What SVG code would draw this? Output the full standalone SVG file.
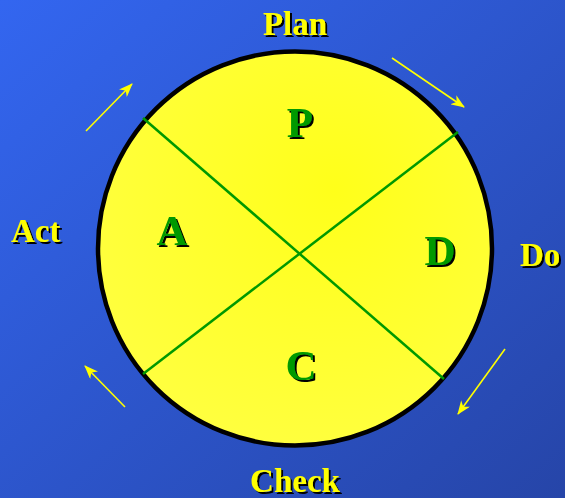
<svg xmlns="http://www.w3.org/2000/svg" width="565" height="498" viewBox="0 0 565 498">
<defs>
<linearGradient id="bg" x1="0" y1="0" x2="1" y2="1">
<stop offset="0" stop-color="#3366F0"/>
<stop offset="1" stop-color="#2645A8"/>
</linearGradient>
<radialGradient id="yl" cx="0.6" cy="0.35" r="0.7">
<stop offset="0" stop-color="#FFFF1A"/>
<stop offset="1" stop-color="#FFFF40"/>
</radialGradient>
<filter id="sh" x="-20%" y="-20%" width="150%" height="150%">
<feDropShadow dx="2" dy="2" stdDeviation="0.4" flood-color="#000" flood-opacity="1"/>
</filter>
<marker id="ah" viewBox="0 0 14 11" refX="13" refY="5.5" markerWidth="14" markerHeight="11" markerUnits="userSpaceOnUse" orient="auto">
<path d="M0,0 L14,5.5 L0,11 L4,5.5 Z" fill="#FFFF00"/>
</marker>
</defs>
<style>
.lbl{font-family:"Liberation Serif","Times New Roman",serif;font-weight:bold;font-size:33px;fill:#FFFF00;filter:url(#sh)}
.big{font-family:"Liberation Serif","Times New Roman",serif;font-weight:bold;font-size:43px;fill:#009900;filter:url(#sh);text-anchor:middle}
.arr{stroke:#FFFF00;stroke-width:1.6;fill:none;marker-end:url(#ah)}
.div{stroke:#009900;stroke-width:2.5}
</style>
<rect width="565" height="498" fill="url(#bg)"/>
<g id="circle">
<circle cx="295" cy="248.5" r="197" fill="url(#yl)" stroke="#000" stroke-width="4.5"/>
</g>
<g id="connectors">
<line class="div" x1="143" y1="118" x2="444" y2="379"/>
<line class="div" x1="458" y1="132" x2="143" y2="374"/>
<line class="arr" x1="86" y1="131" x2="132" y2="84"/>
<line class="arr" x1="392" y1="58" x2="464" y2="107"/>
<line class="arr" x1="505" y1="349" x2="458" y2="414"/>
<line class="arr" x1="125" y1="407" x2="85" y2="366"/>
</g>
<g id="node-P"><text class="big" x="300" y="137">P</text></g>
<g id="node-A"><text class="big" x="172" y="245">A</text></g>
<g id="node-D"><text class="big" x="440" y="265">D</text></g>
<g id="node-C"><text class="big" x="301" y="380">C</text></g>
<g id="label-plan"><text class="lbl" x="295" y="35" text-anchor="middle">Plan</text></g>
<g id="label-act"><text class="lbl" x="11" y="242">Act</text></g>
<g id="label-do"><text class="lbl" x="520" y="266">Do</text></g>
<g id="label-check"><text class="lbl" x="295" y="492" text-anchor="middle">Check</text></g>
</svg>
